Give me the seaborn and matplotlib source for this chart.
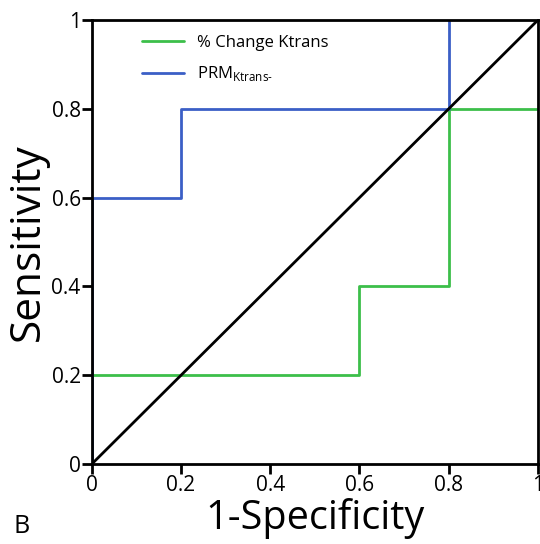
import matplotlib
matplotlib.use("Agg")
import matplotlib.pyplot as plt
import seaborn as sns
import pandas as pd

# ROC curves
green_x = [0, 0, 0.6, 0.6, 0.8, 0.8, 1]
green_y = [0, 0.2, 0.2, 0.4, 0.4, 0.8, 0.8]
blue_x = [0, 0, 0.2, 0.2, 0.8, 0.8]
blue_y = [0, 0.6, 0.6, 0.8, 0.8, 1]
diag_x = [0, 1]
diag_y = [0, 1]
ticks = [0, 0.2, 0.4, 0.6, 0.8, 1]
tick_labels = ["0", "0.2", "0.4", "0.6", "0.8", "1"]

sns.set_style("ticks")
plt.rcParams['font.family'] = ['Open Sans', 'DejaVu Sans']
plt.rcParams['mathtext.fontset'] = 'custom'
plt.rcParams['mathtext.rm'] = 'Open Sans'
plt.rcParams['text.color'] = 'black'
plt.rcParams['axes.labelcolor'] = 'black'
plt.rcParams['xtick.color'] = 'black'
plt.rcParams['ytick.color'] = 'black'
plt.rcParams['axes.edgecolor'] = 'black'

fig = plt.figure(figsize=(5.4, 5.44), dpi=100)
ax = fig.add_axes([0.170, 0.147, 0.826, 0.816])

df_g = pd.DataFrame({"x": green_x, "y": green_y})
df_b = pd.DataFrame({"x": blue_x, "y": blue_y})
df_d = pd.DataFrame({"x": diag_x, "y": diag_y})

sns.lineplot(data=df_g, x="x", y="y", sort=False, estimator=None, ax=ax,
             color="#3cbf4a", lw=2, label="% Change Ktrans")
sns.lineplot(data=df_b, x="x", y="y", sort=False, estimator=None, ax=ax,
             color="#3b5fc6", lw=2, label=r"PRM$_{\mathregular{Ktrans}\text{-}}$")
sns.lineplot(data=df_d, x="x", y="y", sort=False, estimator=None, ax=ax,
             color="black", lw=2, legend=False)

ax.set_xlim(0, 1)
ax.set_ylim(0, 1)
ax.set_xticks(ticks)
ax.set_xticklabels(tick_labels)
ax.set_yticks(ticks)
ax.set_yticklabels(tick_labels)
ax.tick_params(labelsize=15, length=7, width=2, direction="out", pad=1)
for sp in ax.spines.values():
    sp.set_linewidth(2)
    sp.set_visible(True)

ax.set_xlabel("1-Specificity", fontsize=28.5, labelpad=1)
ax.set_ylabel("Sensitivity", fontsize=30.5, labelpad=2)

leg = ax.legend(loc="upper left", bbox_to_anchor=(0.08, 1.0), frameon=False,
                fontsize=12, handlelength=2.5, labelspacing=0.8)

fig.text(0.025, 0.02, "B", fontsize=18)

fig.savefig("out.png", dpi=100)
